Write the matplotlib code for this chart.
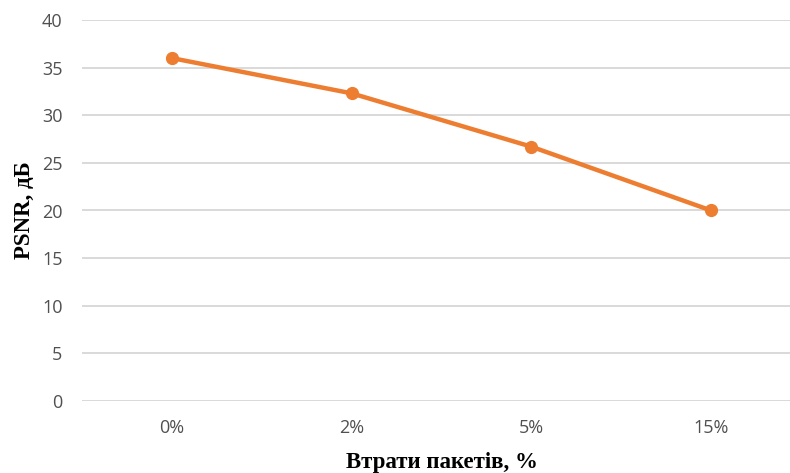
import matplotlib
matplotlib.use("Agg")
import matplotlib.pyplot as plt

# Packet loss levels and the resulting PSNR
loss_labels = ["0%", "2%", "5%", "15%"]
psnr_db = [36.0, 32.3, 26.7, 20.0]
y_ticks = [0, 5, 10, 15, 20, 25, 30, 35, 40]

fig = plt.figure(figsize=(7.90, 4.73), dpi=100)
ax = fig.add_axes([82 / 790, 1 - 401 / 473, 719 / 790, 381 / 473])

x = list(range(len(loss_labels)))
ax.plot(x, psnr_db, color="#ED7D31", linewidth=3.2, marker="o",
        markersize=8.5, solid_capstyle="round", zorder=3, clip_on=False)

ax.set_xlim(-0.5, len(loss_labels) - 0.5)
ax.set_ylim(0, 40)
ax.set_yticks(y_ticks)
ax.set_xticks(x)
ax.set_xticklabels(loss_labels)

for s in ax.spines.values():
    s.set_visible(False)
ax.grid(axis="y", color="#d9d9d9", linewidth=1.4)
ax.set_axisbelow(True)
ax.tick_params(axis="both", length=0, labelsize=13, labelcolor="#505050")
ax.tick_params(axis="y", pad=14)
ax.tick_params(axis="x", pad=13)
for lbl in ax.get_xticklabels() + ax.get_yticklabels():
    lbl.set_family("Open Sans")

ax.set_ylabel("PSNR, дБ", family="Liberation Serif", fontweight="bold", fontsize=16.5)
ax.set_xlabel("Втрати пакетів, %", family="Liberation Serif", fontweight="bold", fontsize=16.5)
ax.yaxis.set_label_coords(-0.066, 0.5)
ax.xaxis.set_label_coords(0.5, -0.135)

fig.savefig("out.png", dpi=100, facecolor="white")
